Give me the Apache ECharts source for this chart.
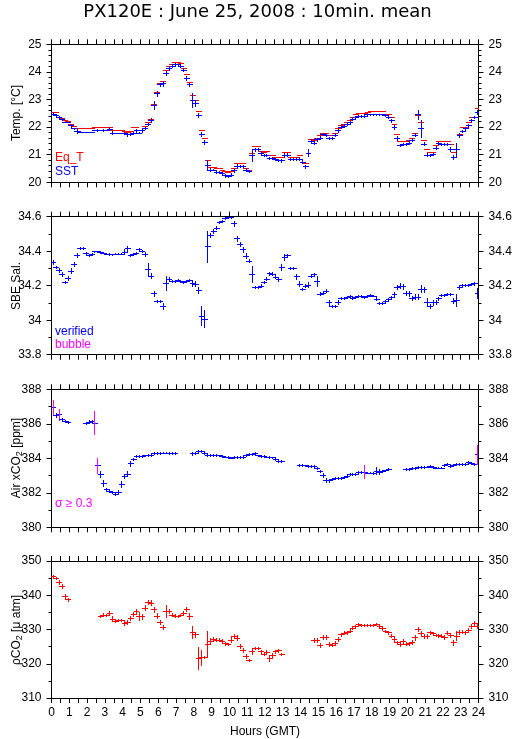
<!DOCTYPE html>
<html><head><meta charset="utf-8">
<script src="https://cdn.jsdelivr.net/npm/echarts@6/dist/echarts.min.js"></script>
<style>html,body{margin:0;padding:0;background:#fff}#c{width:515px;height:739px}</style>
</head><body><div id="c"></div>
<script>
// 10-minute means, slot i is centred at (i+0.5)*10 minutes
const slotMinutes = 10;
const hourTicks = [0,1,2,3,4,5,6,7,8,9,10,11,12,13,14,15,16,17,18,19,20,21,22,23,24];

const sst = [22.49,22.43,22.35,22.29,22.17,22.17,22.07,21.95,21.86,21.84,
21.84,21.84,21.84,21.84,21.88,21.89,21.89,21.90,21.91,21.94,
21.80,21.80,21.80,21.80,21.78,21.74,21.74,21.80,21.89,21.80,
21.89,21.97,22.11,22.25,22.80,23.22,23.55,23.58,23.97,24.13,
24.21,24.27,24.27,24.23,24.08,23.79,23.55,22.98,22.86,22.43,
21.74,21.46,20.62,20.46,20.46,20.38,20.38,20.34,20.25,20.22,
20.28,20.44,20.59,20.59,20.59,20.46,20.41,21.00,21.20,21.20,
21.07,20.98,21.00,20.88,20.89,20.85,20.81,20.80,21.00,21.00,
20.84,20.84,20.84,20.86,20.75,20.58,21.07,21.50,21.44,21.56,
21.62,21.74,21.71,21.60,21.60,21.73,21.89,22.01,22.05,22.13,
22.17,22.28,22.37,22.40,22.40,22.42,22.46,22.47,22.47,22.47,
22.47,22.47,22.43,22.38,22.24,22.01,21.59,21.34,21.40,21.38,
21.44,21.55,21.73,22.46,21.95,21.40,21.00,20.98,21.02,21.25,
21.43,21.38,21.38,21.38,21.22,20.92,21.19,21.71,21.86,21.95,
22.07,22.25,22.37,22.55];
const sstSd = [0.06,0.03,0.06,0.05,0,0,0.05,0.03,0.06,0.03,
0,0,0,0,0,0.03,0,0.03,0,0.05,
0.05,0,0,0,0.03,0.05,0.03,0.03,0.05,0.03,
0.05,0.04,0.05,0.08,0.13,0.08,0.06,0.08,0.08,0.05,
0.05,0.05,0.03,0.04,0.06,0.07,0.06,0.24,0.08,0.08,
0.08,0.06,0.18,0.04,0.03,0.05,0.03,0.04,0.04,0.04,
0.04,0.05,0.06,0.03,0.03,0.06,0.04,0.22,0.06,0.03,
0.05,0.03,0.03,0.05,0.03,0.04,0.05,0.05,0.07,0.05,
0.04,0.03,0.04,0.05,0.05,0.06,0.13,0.07,0.05,0.05,
0.05,0.04,0.03,0.03,0.03,0.04,0.05,0.05,0.04,0.04,
0.04,0.04,0.04,0.03,0.03,0.04,0.03,0.02,0.02,0.02,
0.02,0.02,0.04,0.04,0.05,0.07,0.07,0.04,0.04,0.04,
0.04,0.05,0.06,0.15,0.30,0.06,0.06,0.04,0.04,0.06,
0.04,0.03,0.03,0.03,0.07,0.07,0.23,0.06,0.05,0.05,
0.05,0.05,0.05,0.07];
const eqT = [22.55,22.53,22.38,22.34,22.24,22.22,22.13,22.05,21.97,21.95,
21.95,21.95,21.95,21.95,21.99,21.99,21.99,21.99,21.99,22.02,
21.91,21.91,21.91,21.91,21.85,21.83,21.85,21.99,21.99,21.89,
21.91,22.05,22.17,22.31,22.85,23.28,23.61,23.68,24.06,24.21,
24.27,24.35,24.37,24.31,24.15,23.91,23.64,23.15,22.97,22.59,
21.90,21.61,20.82,20.56,20.56,20.50,20.50,20.44,20.40,20.38,
20.40,20.50,20.70,20.70,20.70,20.50,20.44,21.05,21.30,21.30,
21.13,21.10,21.14,20.98,20.98,20.93,20.91,20.90,21.10,21.10,
20.92,20.92,20.92,21.00,20.73,20.71,21.07,21.56,21.55,21.61,
21.73,21.80,21.80,21.71,21.71,21.80,21.95,22.07,22.13,22.19,
22.25,22.35,22.46,22.51,22.51,22.51,22.55,22.57,22.57,22.57,
22.57,22.57,22.49,22.49,22.36,22.13,21.76,21.49,21.49,21.50,
21.53,21.62,21.78,22.43,22.17,21.54,21.19,21.08,21.10,21.34,
21.51,21.51,21.51,21.51,21.40,21.08,21.22,21.76,21.99,22.00,
22.17,22.37,22.37,22.68];

const sal = [34.336,34.309,34.290,34.267,34.220,34.247,34.288,34.326,34.378,34.417,
34.417,34.388,34.378,34.384,34.400,34.400,34.394,34.392,34.386,34.384,
34.382,34.386,34.386,34.386,34.398,34.417,34.378,34.384,34.392,34.411,
34.403,34.386,34.295,34.257,34.157,34.112,34.112,34.083,34.214,34.240,
34.228,34.226,34.234,34.226,34.220,34.226,34.234,34.214,34.211,34.176,
34.026,34.008,34.430,34.494,34.519,34.536,34.571,34.577,34.590,34.596,
34.600,34.561,34.475,34.440,34.411,34.373,34.346,34.268,34.193,34.193,
34.201,34.222,34.240,34.272,34.269,34.252,34.236,34.307,34.365,34.378,
34.301,34.301,34.255,34.211,34.182,34.199,34.205,34.259,34.267,34.228,
34.153,34.157,34.170,34.105,34.080,34.081,34.105,34.128,34.130,34.132,
34.139,34.130,34.134,34.143,34.139,34.135,34.143,34.147,34.143,34.124,
34.099,34.099,34.112,34.124,34.134,34.151,34.193,34.201,34.197,34.157,
34.155,34.128,34.137,34.137,34.182,34.180,34.105,34.080,34.103,34.105,
34.128,34.147,34.147,34.151,34.151,34.112,34.116,34.193,34.203,34.203,
34.203,34.209,34.214,34.157];
const salSd = [0.012,0.006,0.012,0.012,0.005,0.012,0.012,0.012,0.014,0.005,
0.005,0.006,0.006,0.005,0.004,0.004,0.004,0.004,0.004,0.004,
0.004,0.004,0.004,0.004,0.012,0.014,0.005,0.006,0.006,0.006,
0.006,0.012,0.036,0.014,0.014,0.006,0.006,0.016,0.040,0.008,
0.005,0.005,0.005,0.005,0.005,0.005,0.005,0.014,0.014,0.016,
0.055,0.050,0.090,0.010,0.012,0.008,0.005,0.005,0.005,0.005,
0.005,0.014,0.016,0.012,0.014,0.014,0.008,0.047,0.005,0.005,
0.006,0.008,0.008,0.008,0.008,0.008,0.008,0.016,0.016,0.008,
0.005,0.005,0.014,0.014,0.005,0.008,0.014,0.008,0.008,0.030,
0.008,0.005,0.008,0.014,0.006,0.006,0.012,0.006,0.005,0.005,
0.005,0.005,0.005,0.005,0.005,0.005,0.005,0.005,0.005,0.008,
0.005,0.005,0.006,0.006,0.008,0.012,0.012,0.012,0.014,0.012,
0.014,0.012,0.012,0.014,0.020,0.014,0.022,0.012,0.012,0.012,
0.008,0.005,0.005,0.005,0.005,0.014,0.035,0.012,0.005,0.005,
0.005,0.005,0.008,0.027];

const xco2 = [386.96,386.49,386.55,386.26,386.18,386.11,null,null,null,null,
null,386.07,386.13,386.18,386.07,383.59,383.07,382.55,382.20,382.12,
382.05,381.91,382.03,382.53,382.99,383.11,383.71,383.96,384.14,384.12,
384.12,384.17,384.19,384.19,384.29,384.29,384.31,384.33,384.33,384.31,
384.29,384.29,null,null,null,null,null,384.29,384.33,384.41,
384.43,384.31,384.19,384.19,384.19,384.19,384.17,384.12,384.10,384.08,
384.04,384.06,384.08,384.06,384.06,384.19,384.23,384.27,384.31,384.17,
384.15,384.12,384.10,384.08,384.05,383.94,383.85,383.85,null,null,
null,null,null,383.61,383.61,383.59,383.57,383.55,383.55,383.42,
383.28,383.03,382.76,382.72,382.78,382.84,382.84,382.86,382.92,382.98,
383.07,383.09,383.11,383.19,383.19,383.23,383.17,383.17,383.15,383.27,
383.23,383.27,383.30,383.36,null,null,null,null,null,383.38,
383.38,383.42,383.44,383.48,383.50,383.50,383.52,383.54,383.48,383.46,
383.46,383.46,383.61,383.65,383.57,383.61,383.65,383.67,383.65,383.67,
383.77,383.73,383.67,384.23];
const xco2Sd = [0.42,0.12,0.32,0.08,0.06,0.06,0,0,0,0,
0,0.06,0.08,0.06,0.65,0.42,0.17,0.17,0.10,0.08,
0.06,0.06,0.12,0.17,0.12,0.14,0.14,0.08,0.06,0.05,
0.05,0.05,0.05,0.05,0.05,0.05,0.05,0.05,0.05,0.05,
0.05,0.05,0,0,0,0,0,0.08,0.06,0.08,
0.05,0.05,0.05,0.05,0.05,0.05,0.05,0.05,0.05,0.05,
0.05,0.05,0.05,0.05,0.05,0.08,0.05,0.05,0.08,0.05,
0.05,0.05,0.05,0.05,0.05,0.05,0.05,0.05,0,0,
0,0,0,0.05,0.05,0.05,0.05,0.05,0.05,0.05,
0.05,0.12,0.12,0.10,0.05,0.05,0.05,0.05,0.05,0.05,
0.05,0.05,0.05,0.05,0.05,0.39,0.05,0.05,0.05,0.20,
0.15,0.05,0.05,0.05,0,0,0,0,0,0.05,
0.05,0.05,0.05,0.05,0.05,0.05,0.05,0.05,0.05,0.05,
0.05,0.05,0.08,0.05,0.05,0.05,0.05,0.05,0.05,0.05,
0.05,0.05,0.05,0.56];

const pco2 = [345.68,345.01,343.76,342.71,339.64,338.78,null,null,null,null,
null,null,null,null,null,null,333.88,334.36,334.36,334.94,
333.12,332.54,332.64,332.64,331.87,332.16,333.31,334.65,335.52,333.98,
333.88,336.38,338.01,337.82,335.90,333.98,332.06,330.82,335.32,335.42,
334.36,334.08,333.98,334.17,334.94,335.90,333.98,329.38,328.61,321.70,
321.90,321.99,325.80,326.69,327.27,326.98,327.07,326.59,326.02,325.73,
327.07,328.13,327.65,325.16,324.10,322.37,321.13,323.62,324.58,324.58,
323.62,322.95,323.52,321.70,322.57,323.62,323.91,322.85,null,null,
null,null,null,null,null,null,null,null,326.88,326.88,
325.54,327.94,327.94,325.83,325.54,326.02,327.17,328.61,329.09,329.18,
329.66,330.53,330.91,331.49,331.30,331.30,331.30,331.30,331.30,331.58,
330.91,330.34,329.57,329.18,328.22,327.17,326.21,325.73,326.59,325.83,
325.92,326.31,327.75,330.14,328.90,328.13,328.13,329.18,328.90,328.42,
328.32,328.22,327.75,329.09,328.42,326.31,328.22,329.18,329.38,329.18,
329.86,331.01,331.77,331.10];
const pco2Sd = [0.3,0.3,0.6,0.7,0.87,0.4,0,0,0,0,
0,0,0,0,0,0,0.3,0.5,0.3,0.4,
0.7,0.3,0.3,0.3,0.6,0.6,0.6,0.6,0.6,1.2,
0.7,0.7,0.7,0.8,0.7,0.7,0.6,0.6,1.8,0.7,
0.4,0.3,0.3,0.3,0.6,0.6,0.8,1.75,0.8,3.1,
2.2,0.4,3.9,0.7,0.5,0.4,0.4,0.6,0.4,0.4,
0.6,0.5,0.7,0.5,0.6,0.6,0.4,0.8,0.4,0.4,
0.5,0.4,0.4,0.8,0.7,0.4,0.4,0.4,0,0,
0,0,0,0,0,0,0,0,0.6,0.6,
0.6,0.6,0.6,0.6,0.5,0.6,0.5,0.5,0.4,0.4,
0.4,0.4,0.4,0.4,0.3,0.3,0.3,0.3,0.3,0.3,
0.4,0.4,0.4,0.4,0.5,0.5,0.5,0.5,0.5,0.5,
0.5,0.5,0.7,0.7,0.7,0.6,0.6,0.4,0.4,0.4,
0.4,0.4,0.5,0.5,0.7,0.7,1.2,0.6,0.5,0.5,
0.5,0.5,0.6,0.6];

const sigmaFlag = 0.3;

function build(vals, sds) {
  const out = [];
  for (let i = 0; i < vals.length; i++) {
    if (vals[i] == null) continue;
    out.push([(i + 0.5) * slotMinutes / 60, vals[i], sds ? sds[i] : 0]);
  }
  return out;
}

const halfSlot = slotMinutes / 120;
function makeRender(hColor, vColorFn, minArm) {
  return function (params, api) {
    const t = api.value(0), v = api.value(1), sd = api.value(2);
    const pL = api.coord([t - halfSlot, v]);
    const pR = api.coord([t + halfSlot, v]);
    const y = Math.round(pL[1]) + 0.5;
    const children = [{
      type: 'line',
      shape: { x1: Math.round(pL[0]) - 1, y1: y, x2: Math.round(pR[0]) + 2, y2: y },
      style: { stroke: hColor, lineWidth: 1 }
    }];
    if (sd > 0) {
      const pT = api.coord([t, v + sd]);
      const pB = api.coord([t, v - sd]);
      const xc = Math.round((pL[0] + pR[0]) / 2) + 0.5;
      let y1 = Math.round(pT[1]), y2 = Math.round(pB[1]) + 1;
      if (y2 - y1 >= 2) {
        children.push({
          type: 'line',
          shape: { x1: xc, y1: y1, x2: xc, y2: y2 },
          style: { stroke: vColorFn(sd), lineWidth: 1 }
        });
      }
    }
    return { type: 'group', children };
  };
}

const BLUE = '#0000ff', RED = '#ff0000', MAG = '#ff00ff';
const FONT = 'Liberation Sans';

const L = 51.5, R = 515 - 478.5, H = 138;
const tops = [44.3, 216.7, 389.3, 561];
const yCfg = [
  { min: 20, max: 25, interval: 1, minor: 5 },
  { min: 33.8, max: 34.6, interval: 0.2, minor: 2 },
  { min: 380, max: 388, interval: 2, minor: 2 },
  { min: 310, max: 350, interval: 10, minor: 2 }
];

const grids = [], xAxes = [], yAxes = [];
const axisLine = { show: true, onZero: false, lineStyle: { color: '#000', width: 1 } };
tops.forEach((top, g) => {
  grids.push({ left: L, right: R, top: top, height: H, containLabel: false });
  ['bottom', 'top'].forEach(pos => {
    xAxes.push({
      gridIndex: g, type: 'value', position: pos, min: 0, max: 24, interval: 1,
      axisLine: axisLine,
      axisTick: { show: true, length: 5, lineStyle: { color: '#000' } },
      minorTick: { show: true, splitNumber: 2, length: 5, lineStyle: { color: '#000' } },
      splitLine: { show: false },
      axisLabel: {
        show: pos === 'bottom' && g === 3, color: '#000', fontFamily: FONT, fontSize: 12, margin: 9,
        formatter: v => hourTicks.indexOf(v) >= 0 ? String(v) : ''
      },
      name: (pos === 'bottom' && g === 3) ? 'Hours (GMT)' : '',
      nameLocation: 'middle', nameGap: 28,
      nameTextStyle: { color: '#000', fontFamily: FONT, fontSize: 12 }
    });
  });
  const c = yCfg[g];
  ['left', 'right'].forEach(pos => {
    yAxes.push({
      gridIndex: g, type: 'value', position: pos, min: c.min, max: c.max, interval: c.interval,
      axisLine: axisLine,
      axisTick: { show: true, length: 5, lineStyle: { color: '#000' } },
      minorTick: { show: true, splitNumber: c.minor, length: 3, lineStyle: { color: '#000' } },
      splitLine: { show: false },
      axisLabel: { show: true, color: '#000', fontFamily: FONT, fontSize: 12, margin: 10,
        formatter: v => String(Math.round(v * 10) / 10) }
    });
  });
});

function series(g, data, render) {
  return { type: 'custom', xAxisIndex: 2 * g, yAxisIndex: 2 * g, data: data, renderItem: render, clip: true, silent: true, animation: false };
}

const option = {
  animation: false,
  backgroundColor: '#fff',
  grid: grids, xAxis: xAxes, yAxis: yAxes,
  series: [
    series(0, build(eqT, null), makeRender(RED, () => RED)),
    series(0, build(sst, sstSd), makeRender(BLUE, () => BLUE)),
    series(1, build(sal, salSd), makeRender(BLUE, () => BLUE)),
    series(2, build(xco2, xco2Sd), makeRender(BLUE, sd => sd >= sigmaFlag ? MAG : BLUE)),
    series(3, build(pco2, pco2Sd), makeRender(RED, () => RED))
  ],
  graphic: [
    { type: 'text', left: 'center', top: 3, style: { text: 'PX120E : June 25, 2008 : 10min. mean', font: '18px "DejaVu Sans"', fill: '#000' } },
    { type: 'text', x: 17, y: 113, rotation: Math.PI / 2, style: { text: 'Temp. [°C]', font: '12px "Liberation Sans"', fill: '#000', align: 'center', verticalAlign: 'middle' } },
    { type: 'text', x: 17, y: 286, rotation: Math.PI / 2, style: { text: 'SBE Sal.', font: '12px "Liberation Sans"', fill: '#000', align: 'center', verticalAlign: 'middle' } },
    { type: 'text', x: 17, y: 458, rotation: Math.PI / 2, style: {
      text: '{a|Air xCO}{s|2}{a| [ppm]}', align: 'center', verticalAlign: 'middle',
      rich: { a: { font: '12px "Liberation Sans"', fill: '#000' }, s: { font: '9px "Liberation Sans"', fill: '#000', padding: [6, 0, 0, 0] } } } },
    { type: 'text', x: 17, y: 630, rotation: Math.PI / 2, style: {
      text: '{a|ρCO}{s|2}{a| [μ atm]}', align: 'center', verticalAlign: 'middle',
      rich: { a: { font: '12px "Liberation Sans"', fill: '#000' }, s: { font: '9px "Liberation Sans"', fill: '#000', padding: [6, 0, 0, 0] } } } },
    { type: 'text', x: 55, y: 158, style: { text: 'Eq_T', font: '12px "Liberation Sans"', fill: RED, verticalAlign: 'middle' } },
    { type: 'text', x: 55, y: 172, style: { text: 'SST', font: '12px "Liberation Sans"', fill: BLUE, verticalAlign: 'middle' } },
    { type: 'text', x: 55, y: 332, style: { text: 'verified', font: '12px "Liberation Sans"', fill: BLUE, verticalAlign: 'middle' } },
    { type: 'text', x: 55, y: 345, style: { text: 'bubble', font: '12px "Liberation Sans"', fill: MAG, verticalAlign: 'middle' } },
    { type: 'text', x: 55, y: 504, style: { text: 'σ ≥ 0.3', font: '12px "Liberation Sans"', fill: MAG, verticalAlign: 'middle' } }
  ]
};

const chart = echarts.init(document.getElementById('c'), null, { renderer: 'canvas' });
chart.setOption(option);
</script>
</body></html>
